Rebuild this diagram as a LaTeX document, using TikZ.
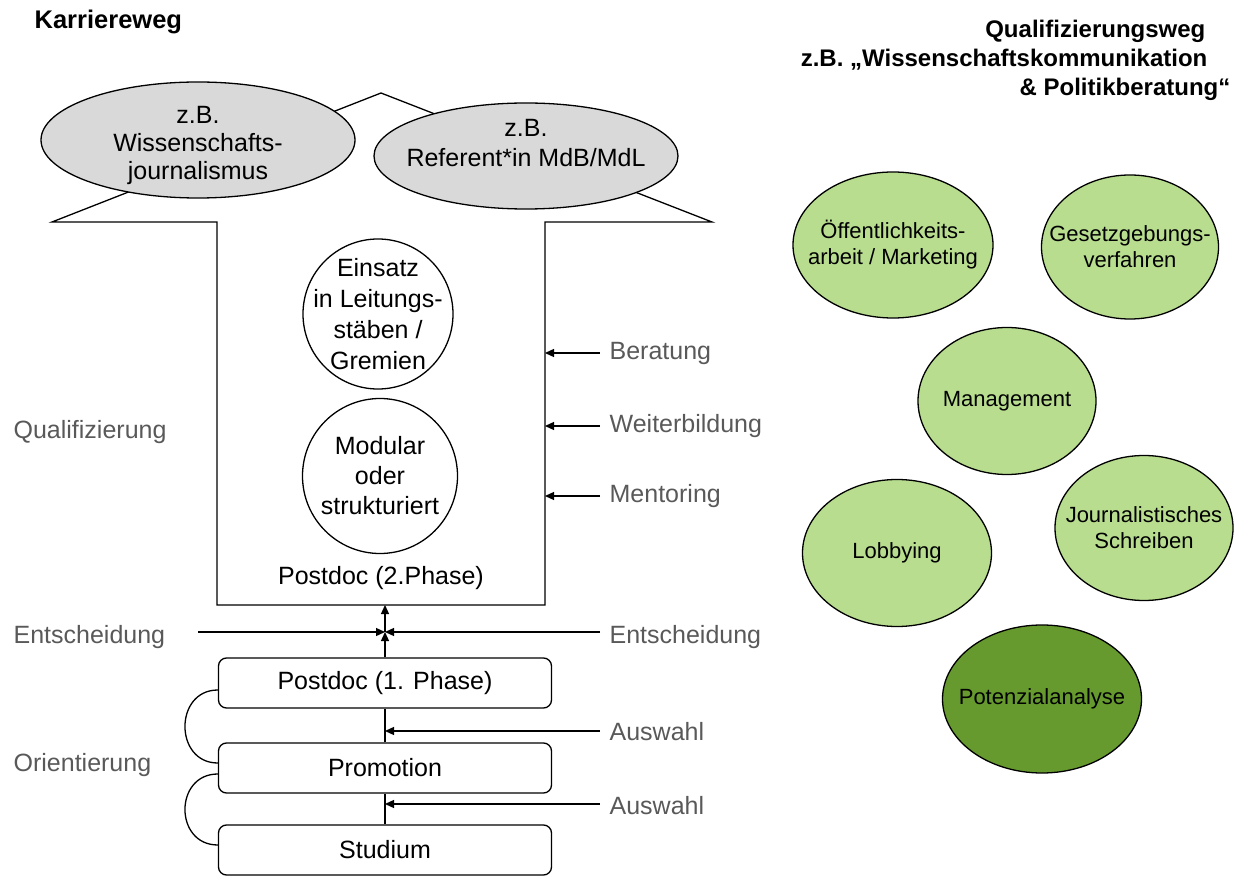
\documentclass[tikz,border=0pt]{standalone}
\usepackage{fontspec}
\setmainfont{Liberation Sans}
\usetikzlibrary{arrows.meta,shapes.geometric,calc}
\definecolor{labelgray}{HTML}{595959}
\definecolor{cloudgray}{HTML}{D9D9D9}
\definecolor{lightgreen}{HTML}{B8DD8F}
\definecolor{darkgreen}{HTML}{669A2E}
\begin{document}
\begin{tikzpicture}[x=1pt,y=-1pt,line width=1.3pt,
  big/.style={font=\fontsize{25}{31}\selectfont},
  sidelabel/.style={big,text=labelgray,anchor=west,inner sep=0pt},
  stage/.style={draw,rounded corners=8pt,minimum width=333pt,minimum height=50pt,big,inner sep=0pt},
  inner/.style={align=center,big,inner sep=0pt},
  goal/.style={ellipse,draw,fill=cloudgray,inner sep=0pt},
  focus/.style={circle,draw,fill=white,inner sep=0pt,minimum size=150pt},
  skilltext/.style={align=center,inner sep=0pt,font=\fontsize{22}{26}\selectfont},
  skill/.style={ellipse,draw,fill=lightgreen,inner sep=0pt},
  tip/.style={-{Triangle[length=9pt,width=8pt]}},
  title/.style={font=\bfseries\fontsize{24}{29}\selectfont,inner sep=0pt,align=right}
]
\useasboundingbox (0,0) rectangle (1235,877);

% headings
\node[title,font=\bfseries\fontsize{25.5}{30}\selectfont,anchor=west] (kw) at (34,22) {Karriereweg};
\node[title,anchor=east] (qw1) at (1206,31) {Qualifizierungsweg};
\node[title,anchor=east] (qw2) at (1208,60) {z.B. „Wissenschaftskommunikation};
\node[title,anchor=east] (qw3) at (1231,89) {\& Politikberatung“};

% the big arrow (postdoc phase 2)
\draw[fill=white] (217,605) -- (217,222) -- (52,222) -- (381,93)
  -- (712,222) -- (545,222) -- (545,605) -- cycle;
\coordinate (bodyR) at (545,400);
\coordinate (bodyB) at (381,605);

% career goals
\node[goal,minimum width=314pt,minimum height=116pt,
  label={[inner,yshift=-5pt,font=\fontsize{25}{28}\selectfont]center:z.B.\\Wissenschafts-\\journalismus}] (wj) at (198,140) {};
\node[goal,minimum width=304pt,minimum height=106pt,
  label={[inner,yshift=13pt,font=\fontsize{25}{30}\selectfont]center:z.B.\\Referent*in MdB/MdL}] (ref) at (526,156) {};

% contents of phase 2
\node[focus,label={[inner]center:Einsatz\\in Leitungs-\\stäben /\\Gremien}] (eins) at (378,314) {};
\node[focus,minimum size=155pt,label={[inner,font=\fontsize{25}{30}\selectfont]center:Modular\\oder\\strukturiert}] (mod) at (380,476) {};
\node[inner] (pd2) at (381,578) {Postdoc (2.Phase)};

% support offers
\node[sidelabel] (ber) at (609,353) {Beratung};
\node[sidelabel] (wb) at (609,426) {Weiterbildung};
\node[sidelabel] (men) at (609,496) {Mentoring};
\foreach \n in {ber,wb,men}
  \draw[tip] ([xshift=-9pt]\n.west) -- (\n.west -| bodyR);

\node[sidelabel] (quali) at (13,432) {Qualifizierung};
\node[sidelabel] (orient) at (13,765) {Orientierung};

% stages
\node[stage] (pd1) at (385,683) {Postdoc (1. Phase)};
\node[stage] (prom) at (385,768) {Promotion};
\node[stage] (stud) at (385,850) {Studium};

% decision point
\coordinate (cross) at (385,632);
\coordinate (decL) at (198,632);
\coordinate (decR) at (600,632);
\node[sidelabel] (entL) at (13,637) {Entscheidung};
\node[sidelabel] (entR) at (609,637) {Entscheidung};
\draw[tip] (pd1.north) -- (cross);
\draw[tip] (cross) -- (cross |- bodyB);
\draw[tip] (decL) -- (cross);
\draw[tip] (decR) -- (cross);

% selections
\draw (prom.north) -- (pd1.south);
\draw (stud.north) -- (prom.south);
\node[sidelabel] (aus1) at (609,732) {Auswahl};
\node[sidelabel] (aus2) at (609,806) {Auswahl};
\draw[tip] ([xshift=-9pt]aus1.west |- 0,731) -- (prom.north |- 0,731);
\draw[tip] ([xshift=-9pt]aus2.west |- 0,804) -- (stud.north |- 0,804);

% orientation loops
\draw ($(pd1.west)+(0,7)$) .. controls (174,690) and (174,763) .. ($(prom.west)+(0,-5)$);
\draw ($(prom.west)+(0,6)$) .. controls (174,774) and (174,845) .. ($(stud.west)+(0,-5)$);

% qualification topics
\node[skill,minimum width=200pt,minimum height=146pt,
  label={[skilltext]center:Öffentlichkeits-\\arbeit / Marketing}] (oeff) at (893,245) {};
\node[skill,minimum width=177pt,minimum height=144pt,
  label={[skilltext]center:Gesetzgebungs-\\verfahren}] (ges) at (1130,247) {};
\node[skill,minimum width=178pt,minimum height=147pt,
  label={[skilltext]center:Management}] (man) at (1007,401) {};
\node[skill,minimum width=189pt,minimum height=147pt,
  label={[skilltext]center:Lobbying}] (lob) at (897,553) {};
\node[skill,minimum width=178pt,minimum height=145pt,
  label={[skilltext]center:Journalistisches\\Schreiben}] (jour) at (1144,528) {};
\node[skill,fill=darkgreen,minimum width=199pt,minimum height=148pt,
  label={[skilltext]center:Potenzialanalyse}] (pot) at (1042,699) {};
\end{tikzpicture}
\end{document}
